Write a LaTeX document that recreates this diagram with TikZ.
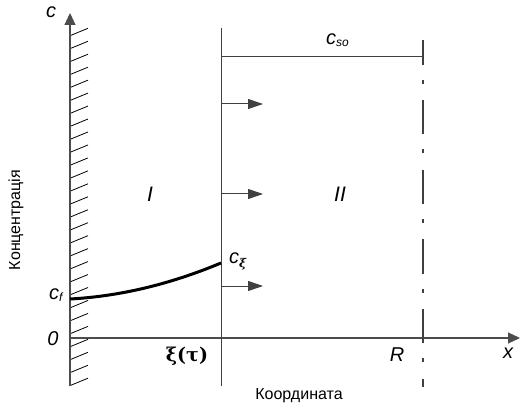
\documentclass[tikz,border=0pt]{standalone}
\usepackage{fontspec}
\setmainfont{Liberation Sans}
\newfontfamily\grkfont{DejaVu Serif}
\usetikzlibrary{arrows.meta}
\begin{document}
\begin{tikzpicture}[x=1pt,y=-1pt,
  axisline/.style={draw=black!70, line width=1.1pt},
  thinline/.style={draw=black!75, line width=1pt},
  hatchline/.style={draw=black, line width=0.8pt},
  flowarrow/.style={draw=black!75, line width=1pt, -{Triangle[length=15pt,width=10pt]}},
  axisarrow/.style={axisline, -{Triangle[length=12pt,width=11pt]}},
  lbl/.style={inner sep=0pt, font=\fontsize{20}{22}\selectfont\itshape},
  captext/.style={inner sep=0pt, font=\fontsize{16}{18}\selectfont}
]
\useasboundingbox (0,0) rectangle (520,409);
% key coordinates
\coordinate (ybot) at (70,386);
\coordinate (ytop) at (70,13);
\coordinate (xorig) at (70,338);
\coordinate (xend) at (520,338);
\coordinate (ftop) at (221,28);
\coordinate (fbot) at (221,386);
\coordinate (stop) at (221,57);
\coordinate (rtop) at (423,40);
\coordinate (rbot) at (423,387);
\coordinate (rso) at (423,57);
\coordinate (cf) at (70,299);
\coordinate (cxi) at (221,263);
% hatching
\foreach \k in {0,...,27} {
  \draw[hatchline] (70,28.3+12.96*\k+7.4) -- (88,28.3+12.96*\k);
}
% axes
\draw[axisarrow] (ybot) -- (ytop);
\draw[axisarrow] (xorig) -- (xend);
% front line
\draw[thinline] (ftop) -- (fbot);
\draw[thinline] (stop) -- (rso);
% dash-dot boundary
\draw[draw=black!75, line width=1.1pt, dash pattern=on 34pt off 15pt on 4pt off 16.5pt, dash phase=9pt] (rtop) -- (rbot);
% flow arrows
\coordinate (a1s) at (221,104); \coordinate (a1e) at (263,104);
\coordinate (a2s) at (221,194); \coordinate (a2e) at (263,194);
\coordinate (a3s) at (221,286); \coordinate (a3e) at (263,286);
\draw[flowarrow] (a1s) -- (a1e);
\draw[flowarrow] (a2s) -- (a2e);
\draw[flowarrow] (a3s) -- (a3e);
% concentration profile
\draw[line width=3pt] (cf) .. controls (119.7,296.3) and (170,284.3) .. (cxi);
% labels
\node[lbl] (lc) at (51,12) {c};
\node[lbl] (lzero) at (53,339) {0};
\node[lbl, anchor=base west] (lcf) at (49,299) {c\raisebox{-2pt}{\fontsize{12}{13}\selectfont\itshape f}};
\node[lbl, anchor=base west] (lcxi) at (229,264) {c\raisebox{-4pt}{\fontsize{12}{13}\selectfont\grkfont\bfseries ξ}};
\node[lbl, anchor=base west] (lcso) at (326,45) {c\raisebox{-2pt}{\fontsize{12}{13}\selectfont\itshape so}};
\node[lbl, font=\fontsize{21}{23}\selectfont\itshape] (lI) at (150,194) {I};
\node[lbl, font=\fontsize{21}{23}\selectfont\itshape] (lII) at (340,194) {II};
\node[lbl] (lR) at (397,355) {R};
\node[lbl] (lx) at (508,353) {x};
\node[inner sep=0pt, font=\fontsize{19}{21}\selectfont\grkfont\bfseries] (lxi) at (187,356) {ξ(τ)};
\node[captext] (lcoord) at (299,396) {Координата};
\node[captext, rotate=90] (lconc) at (16,220) {Концентрація};
\end{tikzpicture}
\end{document}
